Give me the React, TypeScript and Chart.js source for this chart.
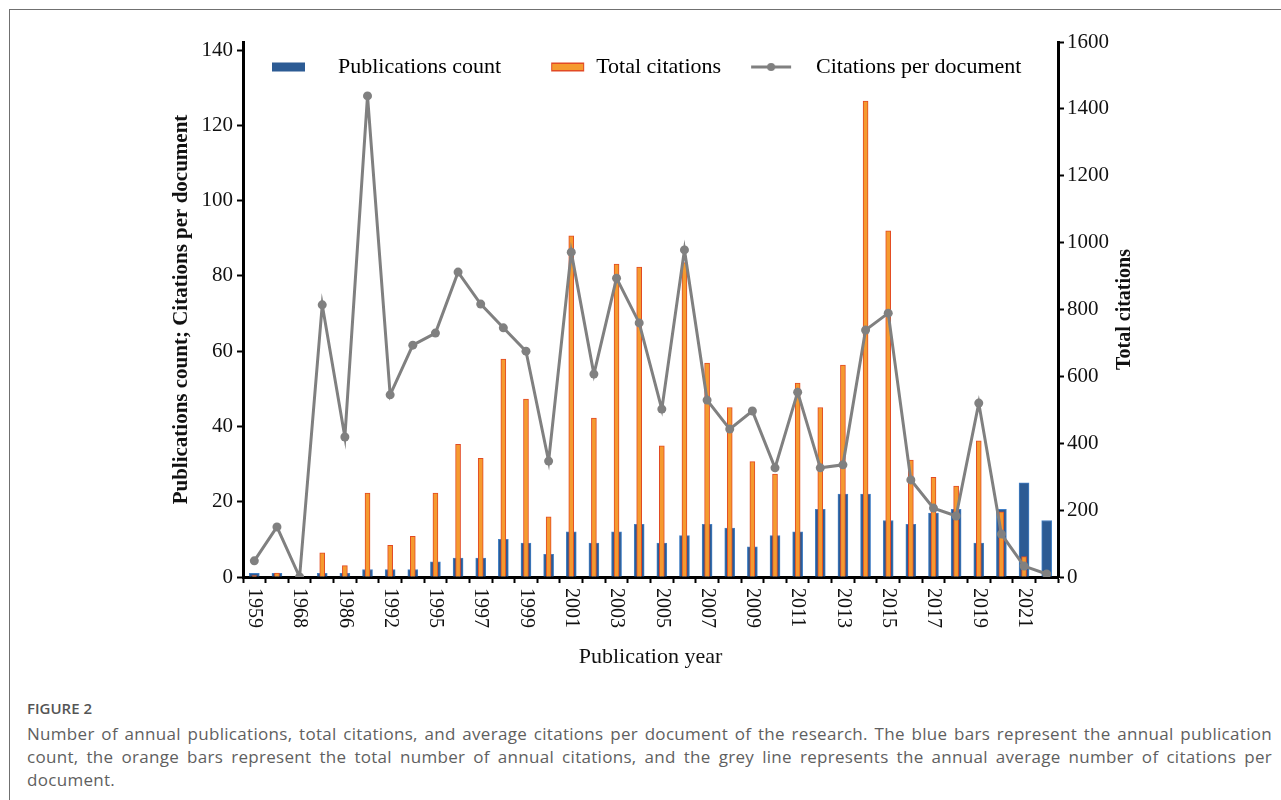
import React, { useEffect, useRef } from 'react';
import { Chart, registerables } from 'chart.js';

Chart.register(...registerables);

const years = ['1959', '1964', '1968', '1977', '1986', '1990', '1992', '1993', '1995', '1996', '1997', '1998', '1999', '2000', '2001', '2002', '2003', '2004', '2005', '2006', '2007', '2008', '2009', '2010', '2011', '2012', '2013', '2014', '2015', '2016', '2017', '2018', '2019', '2020', '2021', '2022'];

const publications = [1, 1, 0, 1, 1, 2, 2, 2, 4, 5, 5, 10, 9, 6, 12, 9, 12, 14, 9, 11, 14, 13, 8, 11, 12, 18, 22, 22, 15, 14, 17, 18, 9, 18, 25, 15];

const totalCitations = [4, 12, 0, 72, 34, 251, 95, 122, 251, 397, 355, 652, 532, 180, 1020, 475, 936, 927, 392, 940, 640, 507, 345, 308, 580, 507, 634, 1423, 1035, 350, 298, 272, 407, 195, 61, 10];

const citationsPerDoc = [4.3, 13.3, 0, 72.3, 37.2, 127.8, 48.4, 61.6, 64.8, 81.0, 72.5, 66.2, 60.0, 30.8, 86.3, 53.9, 79.4, 67.5, 44.6, 86.9, 47.0, 39.3, 44.1, 29.0, 49.1, 29.0, 29.8, 65.6, 70.1, 25.8, 18.3, 16.2, 46.2, 11.4, 2.9, 0.8];

const legendLabels = ['Publications count', 'Total citations', 'Citations per document'];

const BLUE = '#2C5B94';
const BLUE_EDGE = '#4380C6';
const ORANGE = '#F59A2F';
const ORANGE_EDGE = '#E24A24';
const GREY = '#808080';

const serif = '"Liberation Serif", "Times New Roman", serif';

function swatch(kind: string): HTMLCanvasElement {
  const c = document.createElement('canvas');
  c.width = 70;
  c.height = 12;
  const g = c.getContext('2d')!;
  if (kind === 'blue') {
    g.fillStyle = BLUE;
    g.fillRect(15, 1.5, 33, 9);
  } else if (kind === 'orange') {
    g.fillStyle = ORANGE_EDGE;
    g.fillRect(36, 1.5, 33, 9);
    g.fillStyle = ORANGE;
    g.fillRect(37, 3, 31, 6);
  } else {
    g.strokeStyle = GREY;
    g.lineWidth = 3;
    g.beginPath();
    g.moveTo(16, 6);
    g.lineTo(56, 6);
    g.stroke();
    g.fillStyle = GREY;
    g.beginPath();
    g.arc(36, 6, 4, 0, Math.PI * 2);
    g.fill();
  }
  return c;
}

export default function App() {
  const ref = useRef<HTMLCanvasElement>(null);

  useEffect(() => {
    const canvas = ref.current!;
    const images = [swatch('blue'), swatch('orange'), swatch('line')];

    const customPlugin = {
      id: 'customDecor',
      beforeDraw(chart: any) {
        const lg = chart.legend;
        const ca = chart.chartArea;
        if (lg) {
          const h = lg.height;
          lg.top = ca.top;
          lg.bottom = ca.top + h;
        }
      },
      afterDraw(chart: any) {
        const { ctx, chartArea: ca } = chart;
        const xs = chart.scales.x;
        ctx.save();
        ctx.fillStyle = '#111';
        ctx.font = `20px ${serif}`;
        ctx.textAlign = 'left';
        ctx.textBaseline = 'middle';
        years.forEach((y, i) => {
          if (i % 2) return;
          const x = xs.getPixelForTick(i);
          ctx.save();
          ctx.translate(x, xs.top + 11);
          ctx.rotate(Math.PI / 2);
          ctx.fillText(y, 0, 0);
          ctx.restore();
        });
        ctx.font = `bold 20px ${serif}`;
        ctx.textAlign = 'center';
        ctx.translate(ca.right + 67, (ca.top + ca.bottom) / 2);
        ctx.rotate(-Math.PI / 2);
        ctx.fillText('Total citations', 0, 0);
        ctx.restore();
      },
    };

    const chart = new Chart(canvas, {
      type: 'bar',
      data: {
        labels: years,
        datasets: [
          {
            type: 'line',
            label: legendLabels[2],
            data: citationsPerDoc,
            yAxisID: 'y',
            order: 0,
            borderColor: GREY,
            backgroundColor: GREY,
            borderWidth: 3,
            pointRadius: 4.5,
            pointBackgroundColor: GREY,
            pointBorderWidth: 0,
            tension: 0,
          } as any,
          {
            label: legendLabels[1],
            data: totalCitations,
            yAxisID: 'y1',
            order: 1,
            grouped: false,
            barThickness: 5,
            backgroundColor: ORANGE,
            borderColor: ORANGE_EDGE,
            borderWidth: 1,
          },
          {
            label: legendLabels[0],
            data: publications,
            yAxisID: 'y',
            order: 2,
            grouped: false,
            barThickness: 10,
            backgroundColor: BLUE,
            borderColor: BLUE_EDGE,
            borderWidth: 1,
          },
        ],
      },
      options: {
        responsive: false,
        animation: false,
        devicePixelRatio: 1,
        layout: { padding: { top: -8, left: 0, right: 0, bottom: 0 } },
        plugins: {
          legend: {
            position: 'top',
            fullSize: false,
            align: 'start',
            maxHeight: 40,
            labels: {
              usePointStyle: true,
              pointStyleWidth: 70,
              boxHeight: 12,
              padding: 14,
              color: '#111',
              font: { family: serif, size: 22 },
              generateLabels: () =>
                legendLabels.map((t, i) => ({
                  text: t,
                  pointStyle: images[i],
                  fillStyle: 'rgba(0,0,0,0)',
                  strokeStyle: 'rgba(0,0,0,0)',
                  lineWidth: 0,
                  hidden: false,
                  datasetIndex: 2 - i,
                })),
            },
          } as any,
          tooltip: { enabled: false },
        },
        scales: {
          x: {
            offset: true,
            grid: {
              display: true,
              drawOnChartArea: false,
              offset: true,
              tickLength: 6,
              tickWidth: 2,
              tickColor: '#000',
            },
            border: { display: true, width: 3, color: '#000' },
            ticks: { display: false, autoSkip: false },
            title: {
              display: true,
              text: 'Publication year',
              color: '#111',
              font: { family: serif, size: 22 },
              padding: { top: 0, bottom: 20 },
            },
            afterFit: (s: any) => {
              s.height = 113;
            },
          },
          y: {
            position: 'left',
            min: 0,
            max: 142.13,
            ticks: {
              stepSize: 20,
              includeBounds: false,
              color: '#111',
              padding: 4,
              font: { family: serif, size: 21 },
              callback: (v: any) => String(v),
            },
            grid: { drawOnChartArea: false, tickLength: 6, tickWidth: 2, tickColor: '#000' },
            border: { display: true, width: 3, color: '#000' },
            title: {
              display: true,
              text: 'Publications count; Citations per document',
              color: '#111',
              font: { family: serif, size: 21, weight: 'bold' },
              padding: { top: 159, bottom: 0 },
            },
            afterFit: (s: any) => {
              s.width = 233;
            },
          },
          y1: {
            position: 'right',
            min: 0,
            max: 1600,
            ticks: {
              stepSize: 200,
              color: '#111',
              padding: 3,
              font: { family: serif, size: 21 },
              callback: (v: any) => String(v),
            },
            grid: { drawOnChartArea: false, tickLength: 6, tickWidth: 2, tickColor: '#000' },
            border: { display: true, width: 3, color: '#000' },
            afterFit: (s: any) => {
              s.width = 223;
            },
          },
        },
      } as any,
      plugins: [customPlugin],
    });

    return () => chart.destroy();
  }, []);

  return (
    <div
      style={{
        position: 'absolute',
        left: 9,
        top: 9,
        right: 0,
        height: 791,
        boxSizing: 'border-box',
        borderTop: '1px solid #707070',
        borderLeft: '1px solid #707070',
        overflow: 'hidden',
      }}
    >
      <canvas ref={ref} width={1271} height={680} style={{ display: 'block', width: 1271, height: 680 }} />
      <div style={{ padding: '0 9px 0 17px', marginTop: 8, fontFamily: '"Open Sans", "Noto Sans", sans-serif' }}>
        <div style={{ fontSize: 15, fontWeight: 600, lineHeight: '20px', color: '#555' }}>FIGURE 2</div>
        <div style={{ fontSize: 17, letterSpacing: '0.3px', lineHeight: '23px', color: '#5f5f5f', textAlign: 'justify', marginTop: 4 }}>
          Number of annual publications, total citations, and average citations per document of the research. The blue bars represent the annual publication count, the orange bars represent the total number of annual citations, and the grey line represents the annual average number of citations per document.
        </div>
      </div>
    </div>
  );
}
